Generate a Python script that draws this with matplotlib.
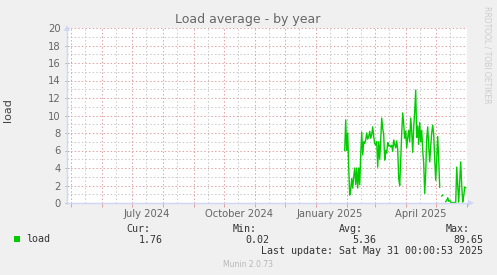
import matplotlib
matplotlib.use('Agg')
import matplotlib.pyplot as plt
import matplotlib.dates as mdates
from matplotlib.patches import Rectangle
import numpy as np
import datetime as dt

# ---------------- data ----------------
nan = np.nan
series_start = '2025-01-30'
load = [6.0, 9.5, 6.0, 8.0, 4.0, 0.9, 1.5, 2.8, 1.7, 3.0,
        4.0, 2.1, 4.0, 1.7, 4.0, 2.1, 5.5, 8.1, 5.5, 7.0,
        6.8, 7.2, 8.0, 7.3, 7.6, 8.2, 7.4, 7.8, 8.7, 7.6,
        6.8, 6.6, 7.0, 4.1, 7.0, 5.0, 7.2, 9.7, 8.5, 7.8,
        4.9, 6.0, 5.7, 6.9, 6.5, 6.6, 6.4, 6.6, 5.9, 7.2,
        6.7, 6.3, 7.1, 6.1, 2.8, 2.0, 4.9, 8.0, 10.3, 9.0,
        7.4, 8.2, 6.3, 7.5, 8.3, 7.0, 9.7, 8.2, 5.8, 8.6,
        10.5, 12.9, 7.5, 8.8, 6.7, 9.2, 7.0, 8.3, 6.0, 4.5,
        1.1, 3.5, 7.4, 8.7, 6.5, 4.7, 6.5, 8.0, 8.9, 7.8,
        5.0, 2.6, 5.0, 7.6, 5.0, 1.8, nan, 0.8, 0.9, nan,
        nan, 0.15, 0.3, 0.6, 0.2, 0.3, 0.1, 0.05, 0.05, 0.05,
        0.05, 0.05, 4.1, 2.0, 0.1, 2.5, 4.7, 2.0, 0.1, 0.8,
        1.8, 1.76]
dates = np.arange(np.datetime64(series_start), np.datetime64(series_start) + len(load)).astype('datetime64[D]').astype(object)

title = 'Load average - by year'
ylabel = 'load'
yticks = list(range(0, 21, 2))
month_labels = ['July 2024', 'October 2024', 'January 2025', 'April 2025']
month_label_pos = [dt.datetime(2024, 7, 16), dt.datetime(2024, 10, 16),
                   dt.datetime(2025, 1, 15), dt.datetime(2025, 4, 16)]
legend_name = 'load'
stat_names = ['Cur:', 'Min:', 'Avg:', 'Max:']
stat_values = ['1.76', '0.02', '5.36', '89.65']
last_update = 'Last update: Sat May 31 00:00:53 2025'
munin_ver = 'Munin 2.0.73'
watermark = 'RRDTOOL / TOBI OETIKER'

# ---------------- style ----------------
W, H = 497, 275
BG = '#F0F0F0'
FONT = '#666666'
AXIS = '#CFD6F8'
MGRID = '#E2A0A0'
GRID = '#C8C8C8'
GREEN = '#00CC00'

fig = plt.figure(figsize=(W / 100, H / 100), dpi=100, facecolor=BG)
L, R, T, B = 67, 467, 28, 203
ax = fig.add_axes([L / W, 1 - B / H, (R - L) / W, (B - T) / H])
ax.set_facecolor('white')

x0 = dt.datetime(2024, 4, 27, 7)
x1 = dt.datetime(2025, 6, 1, 7)
ax.set_xlim(x0, x1)
ax.set_ylim(0, 20)

dot = (0, (1.4, 2.2))
# horizontal grid
for v in range(1, 21):
    ax.axhline(v, color=MGRID if v % 2 == 0 else GRID, lw=0.72, ls=dot, zorder=1)
# vertical grid
months = []
d = dt.datetime(2024, 5, 1)
while d < x1:
    months.append(d)
    d = dt.datetime(d.year + (d.month // 12), d.month % 12 + 1, 1)
for m in months:
    ax.axvline(m, color=MGRID, lw=0.72, ls=dot, zorder=1)
    mid = m.replace(day=15)
    if mid < x1:
        ax.axvline(mid, color=GRID, lw=0.72, ls=dot, zorder=1)

ax.plot(dates, load, color=GREEN, lw=1.0, zorder=3)

for s in ['top', 'right']:
    ax.spines[s].set_visible(False)
for s in ['left', 'bottom']:
    ax.spines[s].set_color(AXIS)
    ax.spines[s].set_linewidth(1.0)
    ax.spines[s].set_zorder(4)

# arrows
ax.plot([0], [1.0], marker='^', ms=5, color=AXIS, transform=ax.transAxes,
        clip_on=False, zorder=5, markeredgewidth=0)
ax.plot([1.0 + 4 / (R - L)], [0], marker='>', ms=5, color=AXIS, transform=ax.transAxes,
        clip_on=False, zorder=5, markeredgewidth=0)

ax.set_yticks(yticks)
ax.set_yticklabels([str(v) for v in yticks])
ax.tick_params(axis='y', length=3, direction='inout', color='#AAAAAA', width=0.7,
               labelsize=7.2, labelcolor=FONT, pad=3)
ax.set_xticks(months)
ax.set_xticklabels([])
ax.tick_params(axis='x', which='major', length=3, direction='out', color=MGRID, width=0.7)
ax.set_xticks(month_label_pos, minor=True)
ax.set_xticklabels(month_labels, minor=True)
ax.tick_params(axis='x', which='minor', length=0, labelsize=7.2, labelcolor=FONT, pad=4)

fig.text(248 / W, 1 - 19 / H, title, ha='center', va='center', fontsize=9, color=FONT)
fig.text(8 / W, 1 - 110 / H, ylabel, ha='center', va='center', rotation=90,
         fontsize=8, color='#444444')
fig.text(487 / W, 1 - 55 / H, watermark, ha='center', va='center', rotation=-90,
         fontsize=5.5, color='#CCCCCC')

mono = 'DejaVu Sans Mono'
fs = 7.2
fig.patches.append(Rectangle((14 / W, 1 - 241.5 / H), 5.5 / W, 5.5 / H, transform=fig.transFigure,
                             facecolor=GREEN, edgecolor='none'))
fig.text(26.5 / W, 1 - 239.5 / H, legend_name, ha='left', va='center', family=mono, fontsize=fs, color='#333333')
name_right = [150, 257, 363, 470]
val_right = [163, 269.5, 376, 483]
for n, xr in zip(stat_names, name_right):
    fig.text(xr / W, 1 - 228.5 / H, n, ha='right', va='center', family=mono, fontsize=fs, color='#333333')
for v, xr in zip(stat_values, val_right):
    fig.text(xr / W, 1 - 240 / H, v, ha='right', va='center', family=mono, fontsize=fs, color='#333333')
fig.text(483 / W, 1 - 251 / H, last_update, ha='right', va='center', family=mono, fontsize=fs, color='#333333')
fig.text(248 / W, 1 - 264.5 / H, munin_ver, ha='center', va='center', fontsize=5.5, color='#B8B8B8')

fig.savefig('out.png', dpi=100, facecolor=BG)
